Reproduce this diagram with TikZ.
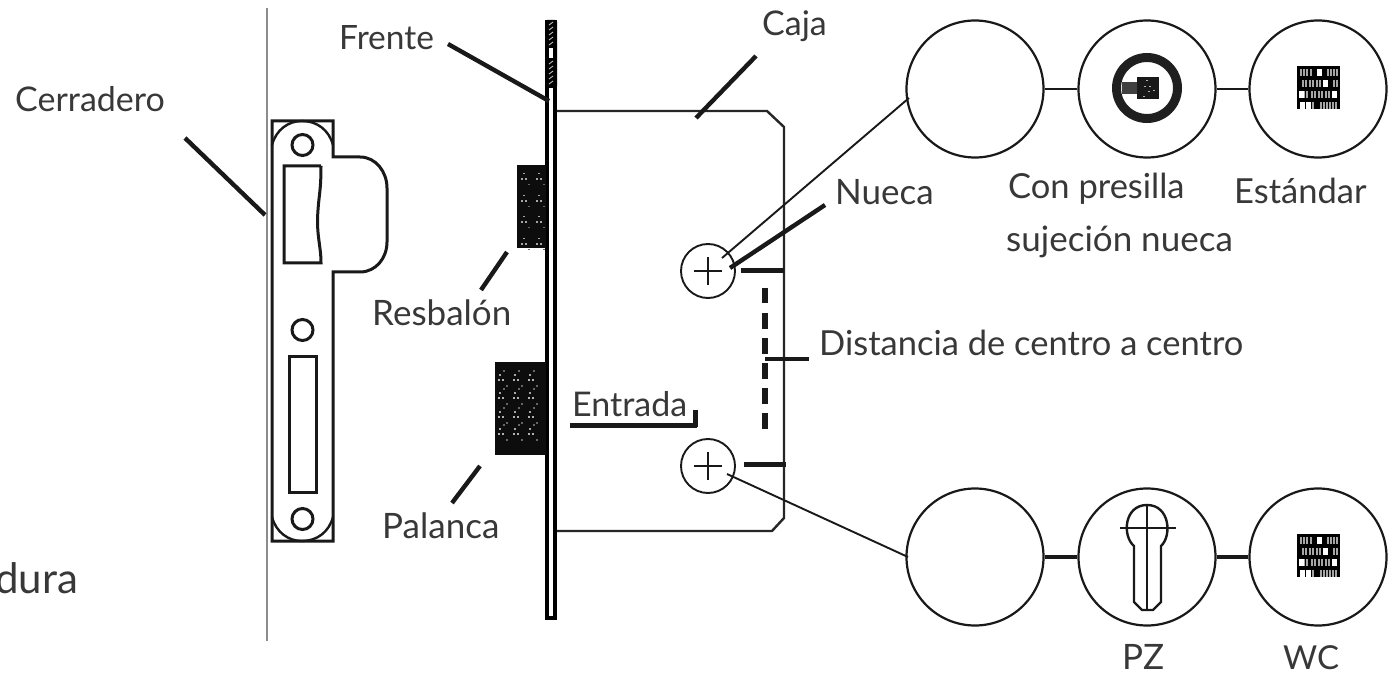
\documentclass[tikz,border=0pt]{standalone}
\usepackage{fontspec}
\setmainfont{Lato}
\newcommand{\fsz}[1]{\fontsize{#1}{#1}\selectfont}
\begin{document}
\begin{tikzpicture}[x=1pt,y=-1pt,
  lbl/.style={text=black!78,inner sep=0pt,anchor=base west},
  disc/.style={circle,draw=black!90,line width=2.2pt,minimum size=137pt,inner sep=0pt},
  knob/.style={circle,draw=black!90,line width=1.9pt,minimum size=54pt,inner sep=0pt},
  hole/.style={circle,draw=black!90,line width=3pt,minimum size=21pt,inner sep=0pt},
  leader/.style={line width=4.4pt,black!90},
  thin/.style={line width=1.9pt,black!90},
  link/.style={line width=2.6pt,black!90},
  outline/.style={line width=2.4pt,black!85},
  strike/.style={line width=3pt,black!90,line join=miter}]
\useasboundingbox (0,0) rectangle (1392,676);
\fill[white] (0,0) rectangle (1392,676);
% labels
\node[lbl,font=\fsz{34}] (cerr) at (15,112) {Cerradero};
\node[lbl,font=\fsz{33.5}] (fren) at (339,50) {Frente};
\node[lbl,font=\fsz{34}] (caja) at (762,36) {Caja};
\node[lbl,font=\fsz{35}] (nuec) at (835,205) {Nueca};
\node[lbl,font=\fsz{34.5}] (conp) at (1008,199) {Con presilla};
\node[lbl,font=\fsz{35}] (suje) at (1006,252) {sujeción nueca};
\node[lbl,font=\fsz{34.5}] (esta) at (1234,204) {Estándar};
\node[lbl,font=\fsz{35}] (resb) at (372,325) {Resbalón};
\node[lbl,font=\fsz{34.5}] (dist) at (819,355) {Distancia de centro a centro};
\node[lbl,font=\fsz{34}] (entr) at (572,416) {Entrada};
\node[lbl,font=\fsz{35}] (pala) at (382,538) {Palanca};
\node[lbl,font=\fsz{42}] (dura) at (-5,593) {dura};
\node[lbl,font=\fsz{35}] (pzl) at (1122,669) {PZ};
\node[lbl,font=\fsz{33}] (wcl) at (1283,669) {WC};
% divider
\coordinate (divT) at (267,8); \coordinate (divB) at (267,641);
\draw[line width=1.2pt,black!45] (divT) -- (divB);
% strike plate
\draw[strike] (333,157) -- (360,157)
  .. controls (376,157) and (387,172) .. (387,188) -- (387,242)
  .. controls (387,258) and (376,272) .. (360,272) -- (333,272) -- (333,541) -- (272,541) -- (272,121) -- (333,121) -- cycle;
\draw[strike,line width=2.4pt] (272,145) .. controls (276,130) and (288,121) .. (302,121)
  .. controls (317,121) and (329,130) .. (333,145);
\draw[strike,line width=2.4pt] (272,517) .. controls (276,532) and (288,541) .. (302,541)
  .. controls (317,541) and (329,532) .. (333,517);
\node[hole] (h1) at (302.5,145) {};
\node[hole] (h2) at (302.5,330) {};
\node[hole] (h3) at (302.5,519) {};
\draw[strike] (321,166) -- (284,166) -- (284,263) -- (321,263)
  .. controls (321,245) and (316,235) .. (318,210) .. controls (319,195) and (321,190) .. (321,166);
\draw[strike] (289,356) rectangle (316,492);
% faceplate
\draw[line width=3.2pt,black] (547,22) -- (547,618) -- (555,618) -- (555,22) -- cycle;
\fill[black,rounded corners=2pt] (545,20) rectangle (557,88);
\fill[white] (549,48) rectangle (553,58);
\foreach \y in {25,30,...,45,64,69,...,84} \draw[white!75!black,line width=.9pt] (549,\y) -- (553,\y-3);
% box
\draw[outline] (557,111) -- (767,111) -- (784,127) -- (784,518) -- (772,531) -- (557,531);
% bolts
\fill[black!95] (517,165) rectangle (546,248);
\fill[black!95] (495,362) rectangle (546,455);
\foreach \x in {521,536} \foreach \y in {178,200,221,243}{
  \fill[black!35] (\x,\y) rectangle +(2,2);
  \fill[black!35] (\x+4,\y) rectangle +(2,2);
  \fill[black!35] (\x+2,\y-5) rectangle +(1.5,1.5);
  \fill[black!60] (\x+7,\y+6) rectangle +(1.5,1.5);
}
\foreach \x in {498,513,528} \foreach \y in {379,397,416,433}{
  \fill[black!30] (\x,\y) rectangle +(2,2);
  \fill[black!30] (\x+4,\y) rectangle +(2,2);
  \fill[black!35] (\x+1,\y-5) rectangle +(2,2);
  \fill[black!60] (\x+8,\y+6) rectangle +(1.5,1.5);
  \fill[black!60] (\x+5,\y-9) rectangle +(1.5,2);
}
% knobs
\node[knob] (k1) at (708,271) {};
\node[knob] (k2) at (708,466) {};
\draw[line width=2.1pt,black!90] (k1.center) ++(-14,0) -- ++(28,0) (k1.center) ++(0,-14) -- ++(0,28);
\draw[line width=2.1pt,black!90] (k2.center) ++(-14,0) -- ++(28,0) (k2.center) ++(0,-14) -- ++(0,28);
% discs
\node[disc] (c1) at (975,89) {};
\node[disc] (c2) at (1147,89) {};
\node[disc] (c3) at (1318,89) {};
\node[disc] (c4) at (975,557) {};
\node[disc] (c5) at (1147,557) {};
\node[disc] (c6) at (1318,557) {};
\draw[link] (c1) -- (c2);
\draw[link] (c2) -- (c3);
\draw[link,line width=3.2pt] (c4) -- (c5);
\draw[link,line width=3.2pt] (c5) -- (c6);
% leaders between knobs and discs
\coordinate (k1a) at (722,258);
\coordinate (k2a) at (727,474);
\coordinate (c1a) at (909,98);
\coordinate (c4a) at (908,557);
\draw[thin] (k1a) -- (c1a);
\draw[thin] (k2a) -- (c4a);
% ring icon
\draw[line width=9pt,black!88] (1147,88) circle (30.5);
\fill[black!90] (1137,77) rectangle (1159,99);
\fill[black!75] (1122,82) rectangle (1137,94);
\foreach \x/\y in {1146/80,1144/86,1149/86,1153/90,1143/96,1148/91}
  \fill[white!70!black] (\x,\y) rectangle +(1.5,1.5);
% grid icons
\foreach \yy in {66,534}{
  \fill[black] (1297,\yy) rectangle (1340,\yy+43);
  \foreach \r/\xs in {0/{1300,1303,1306,1310,1327,1330,1333,1336},11/{1302,1305,1309,1312,1316,1319,1333,1336},22/{1303,1306,1311,1314,1318,1321,1325,1328},33/{1309,1312,1320,1323,1326,1329,1332,1335}}{
    \foreach \x in \xs \fill[white!65!black] (\x,\yy+3+\r) rectangle +(1.6,7);
  }
  \foreach \x/\r in {1317/0,1299/22,1300/33,1306/33,1323/11,1332/22}
    \fill[white] (\x,\yy+3+\r) rectangle +(5,7);
}
% key icon
\draw[line width=2.4pt,black!90] (1134,546)
  .. controls (1122,536) and (1124,505) .. (1147,505)
  .. controls (1170,505) and (1172,536) .. (1161,546)
  -- (1161,602) -- (1153,610) -- (1142,610) -- (1134,602) -- cycle;
\draw[line width=2pt,black!90] (1147,505) -- (1147,610);
\draw[line width=2pt,black!90] (1120,528) -- (1176,528);
% label leaders
\coordinate (l1a) at (185,138); \coordinate (l1b) at (265,215);
\draw[leader] (l1a) -- (l1b);
\coordinate (l2a) at (448,44); \coordinate (l2b) at (549,101);
\draw[leader] (l2a) -- (l2b);
\coordinate (l3a) at (756,56); \coordinate (l3b) at (696,118);
\draw[leader] (l3a) -- (l3b);
\coordinate (l4a) at (825,205); \coordinate (l4b) at (730,268);
\draw[leader] (l4a) -- (l4b);
\coordinate (l5a) at (507,252); \coordinate (l5b) at (481,290);
\draw[leader] (l5a) -- (l5b);
\coordinate (l6a) at (480,466); \coordinate (l6b) at (452,503);
\draw[leader] (l6a) -- (l6b);
\coordinate (t1a) at (741,271); \coordinate (t1b) at (784,271);
\draw[leader,line width=5pt] (t1a) -- (t1b);
\coordinate (t2a) at (744,464); \coordinate (t2b) at (786,464);
\draw[leader,line width=5pt] (t2a) -- (t2b);
\coordinate (t3a) at (765,359); \coordinate (t3b) at (809,359);
\draw[leader] (t3a) -- (t3b);
\coordinate (t4a) at (765,288); \coordinate (t4b) at (765,430);
\draw[leader,line width=6pt,dash pattern=on 15.5pt off 9.5pt] (t4a) -- (t4b);
\coordinate (e1) at (570,425); \coordinate (e2) at (697,425); \coordinate (e3) at (695,410);
\draw[leader,line width=5pt] (e1) -- (e2);
\draw[leader,line width=5pt] (e3) -- (695,427);
\end{tikzpicture}
\end{document}
